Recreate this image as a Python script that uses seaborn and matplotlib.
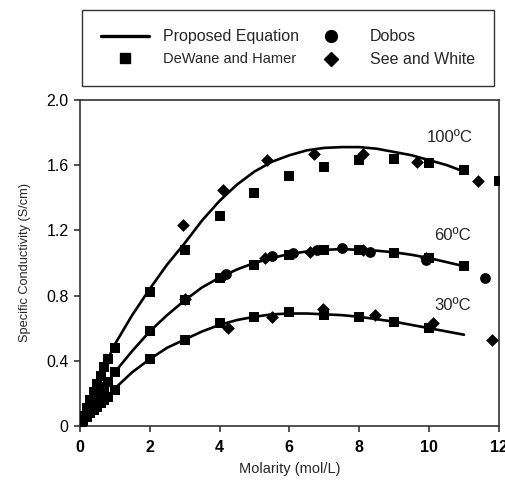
import matplotlib
matplotlib.use("Agg")
import matplotlib.pyplot as plt
from matplotlib.lines import Line2D
import seaborn as sns
import pandas as pd

sns.set_theme(style="ticks")
plt.rcParams['font.family'] = ['Liberation Sans', 'DejaVu Sans']

# Proposed equation curves
curve_x = [0, 0.25, 0.5, 1, 1.5, 2, 2.5, 3, 3.5, 4, 4.5, 5, 5.5, 6, 6.5, 7, 7.5, 8,
           8.5, 9, 9.5, 10, 10.5, 11]
curve_100 = [0, 0.14, 0.27, 0.50, 0.68, 0.84, 0.99, 1.12, 1.26, 1.38, 1.48, 1.56, 1.62,
             1.66, 1.69, 1.705, 1.71, 1.71, 1.70, 1.68, 1.66, 1.63, 1.60, 1.56]
curve_60 = [0, 0.09, 0.18, 0.33, 0.46, 0.58, 0.68, 0.77, 0.85, 0.91, 0.96, 1.00, 1.03,
            1.055, 1.07, 1.08, 1.085, 1.08, 1.075, 1.065, 1.05, 1.03, 1.005, 0.98]
curve_30 = [0, 0.06, 0.12, 0.23, 0.33, 0.41, 0.48, 0.53, 0.58, 0.62, 0.65, 0.67, 0.685,
            0.69, 0.69, 0.685, 0.68, 0.67, 0.655, 0.64, 0.62, 0.60, 0.58, 0.56]

# DeWane and Hamer (squares)
dw_x = [0.05, 0.1, 0.2, 0.3, 0.4, 0.5, 0.6, 0.7, 0.8, 1, 2, 3, 4, 5, 6, 7, 8, 9, 10, 11, 12]
dw_100 = [0.03, 0.06, 0.11, 0.16, 0.21, 0.26, 0.31, 0.36, 0.41, 0.48, 0.82, 1.08, 1.29,
          1.43, 1.53, 1.59, 1.63, 1.64, 1.61, 1.57, 1.50]
dw_x60 = [0.05, 0.1, 0.2, 0.3, 0.4, 0.5, 0.6, 0.7, 0.8, 1, 2, 3, 4, 5, 6, 7, 8, 9, 10, 11]
dw_60 = [0.02, 0.04, 0.08, 0.11, 0.15, 0.18, 0.21, 0.24, 0.27, 0.33, 0.58, 0.77, 0.91,
         0.99, 1.05, 1.08, 1.08, 1.06, 1.03, 0.98]
dw_x30 = [0.05, 0.1, 0.2, 0.3, 0.4, 0.5, 0.6, 0.7, 0.8, 1, 2, 3, 4, 5, 6, 7, 8, 9, 10]
dw_30 = [0.015, 0.03, 0.055, 0.08, 0.10, 0.12, 0.14, 0.16, 0.18, 0.22, 0.41, 0.53, 0.63,
         0.67, 0.70, 0.68, 0.67, 0.64, 0.60]

# Dobos (circles), 60 C
db_x = [4.2, 5.5, 6.1, 6.8, 7.5, 8.3, 9.9, 11.6]
db_60 = [0.93, 1.04, 1.06, 1.08, 1.09, 1.07, 1.02, 0.91]

# See and White (diamonds)
sw_x100 = [2.95, 4.1, 5.35, 6.7, 8.1, 9.65, 11.4]
sw_100 = [1.23, 1.45, 1.63, 1.67, 1.67, 1.62, 1.50]
sw_x60 = [3.0, 4.1, 5.3, 6.6, 8.1, 9.9]
sw_60 = [0.78, 0.92, 1.03, 1.07, 1.08, 1.03]
sw_x30 = [4.25, 5.5, 6.95, 8.45, 10.1, 11.8]
sw_30 = [0.60, 0.67, 0.72, 0.68, 0.63, 0.53]

curves = pd.concat([
    pd.DataFrame({"x": curve_x, "y": c, "T": t})
    for c, t in [(curve_100, "100"), (curve_60, "60"), (curve_30, "30")]
])
dewane = pd.DataFrame({"x": dw_x + dw_x60 + dw_x30, "y": dw_100 + dw_60 + dw_30})
dobos = pd.DataFrame({"x": db_x, "y": db_60})
see = pd.DataFrame({"x": sw_x100 + sw_x60 + sw_x30, "y": sw_100 + sw_60 + sw_30})

fig = plt.figure(figsize=(5.05, 4.82), dpi=100)
ax = fig.add_axes([0.158, 0.116, 0.830, 0.677])

sns.lineplot(data=curves, x="x", y="y", units="T", estimator=None, color="black",
             linewidth=1.9, ax=ax, legend=False, sort=False)
sns.scatterplot(data=dewane, x="x", y="y", marker="s", color="black", s=55,
                edgecolor="black", linewidth=0, ax=ax, legend=False, zorder=3)
sns.scatterplot(data=dobos, x="x", y="y", marker="o", color="black", s=60,
                edgecolor="black", linewidth=0, ax=ax, legend=False, zorder=3)
sns.scatterplot(data=see, x="x", y="y", marker="D", color="black", s=42,
                edgecolor="black", linewidth=0, ax=ax, legend=False, zorder=3)

ax.set_xlim(0, 12)
ax.set_ylim(0, 2.0)
ax.set_xticks([0, 2, 4, 6, 8, 10, 12])
ax.set_yticks([0, 0.4, 0.8, 1.2, 1.6, 2.0])
ax.set_yticklabels(["0", "0.4", "0.8", "1.2", "1.6", "2.0"])
for sp in ax.spines.values():
    sp.set_color("#333333")
    sp.set_linewidth(1.2)
ax.tick_params(direction="out", length=4, width=1.2, colors="#333333",
               labelsize=11.5, labelcolor="black")
ax.tick_params(axis="y", pad=4)
ax.tick_params(axis="x", pad=6)
for lab in ax.get_xticklabels():
    lab.set_fontweight("bold")
ax.set_xlabel("Molarity (mol/L)", fontsize=10.5, labelpad=5)
ax.set_ylabel("Specific Conductivity (S/cm)", fontsize=9.2, labelpad=11)

ax.text(10.6, 1.77, "100ºC", fontsize=12, ha="center", va="center")
ax.text(10.66, 1.17, "60ºC", fontsize=12, ha="center", va="center")
ax.text(10.66, 0.74, "30ºC", fontsize=12, ha="center", va="center")

handles = [
    Line2D([], [], color="black", linewidth=2.4),
    Line2D([], [], color="black", marker="s", linestyle="none", markersize=7),
    Line2D([], [], color="black", marker="o", linestyle="none", markersize=8.5),
    Line2D([], [], color="black", marker="D", linestyle="none", markersize=7),
]
labels = ["Proposed Equation", "DeWane and Hamer", "Dobos", "See and White"]
leg = fig.legend(handles, labels, ncol=2, loc="center",
                 bbox_to_anchor=(0.570, 0.900),
                 fontsize=11.5, frameon=True, fancybox=False, borderpad=1.2,
                 handlelength=3.0, handletextpad=0.9, columnspacing=0.5,
                 labelspacing=0.5)
for t in leg.get_texts():
    if t.get_text().startswith("DeWane"):
        t.set_fontsize(10.5)
leg.get_frame().set_edgecolor("black")
leg.get_frame().set_linewidth(1.0)

fig.savefig("out.png", dpi=100)
